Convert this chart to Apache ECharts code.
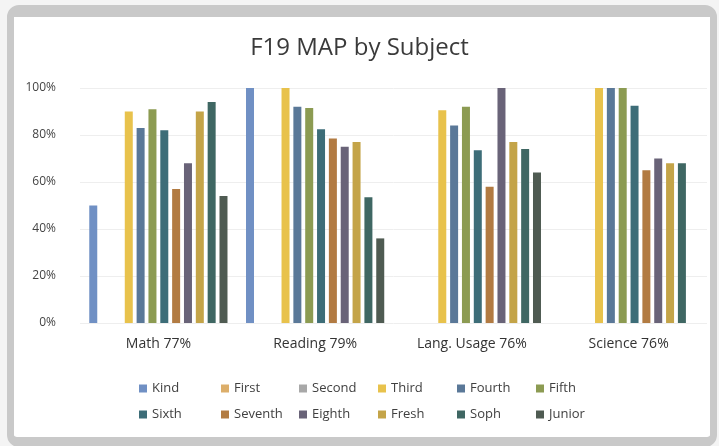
<!DOCTYPE html>
<html>
<head>
<meta charset="utf-8">
<script src="https://cdn.jsdelivr.net/npm/echarts@6/dist/echarts.min.js"></script>
<style>
	html, body { margin: 0; padding: 0; background: #f4f4f4; }
	#frame {
		position: absolute; left: 7px; top: 5px; width: 696px; height: 420px;
		border: 7px solid #c9c9c9; border-top-width: 12px; border-bottom-width: 10px;
		border-radius: 12px; background: #fff;
	}
	#chart { position: absolute; left: 0; top: 0; width: 719px; height: 446px; }
</style>
</head>
<body>
<div id="frame"></div>
<div id="chart"></div>
<script>
// subjects on x axis
var subjects = ['Math 77%', 'Reading 79%', 'Lang. Usage 76%', 'Science 76%'];
// grade levels (series)
var grades = ['Kind', 'First', 'Second', 'Third', 'Fourth', 'Fifth', 'Sixth', 'Seventh', 'Eighth', 'Fresh', 'Soph', 'Junior'];
var gradeColors = ['#7090c4', '#dcae6a', '#a8a8a8', '#e8c24c', '#5a7898', '#8c9b52', '#3d6d78', '#b27b42', '#696378', '#c4a448', '#3f6763', '#4f5b52'];
// percent per subject, one array per grade
var kind    = [50, 100, null, null];
var first   = [null, null, null, null];
var second  = [null, null, null, null];
var third   = [90, 100, 90.5, 100];
var fourth  = [83, 92, 84, 100];
var fifth   = [91, 91.5, 92, 100];
var sixth   = [82, 82.5, 73.5, 92.5];
var seventh = [57, 78.5, 58, 65];
var eighth  = [68, 75, 100, 70];
var fresh   = [90, 77, 77, 68];
var soph    = [94, 53.5, 74, 68];
var junior  = [54, 36, 64, null];
var yTicks = [0, 20, 40, 60, 80, 100];

var values = [kind, first, second, third, fourth, fifth, sixth, seventh, eighth, fresh, soph, junior];

var chart = echarts.init(document.getElementById('chart'));

var series = grades.map(function(g, i) {
	return {
		name: g,
		type: 'bar',
		data: values[i],
		barWidth: 8,
		barGap: '48%',
		itemStyle: { color: gradeColors[i] }
	};
});

// legend laid out as a 6 x 2 grid, one legend per item
var legendCols = [134, 216, 294, 373, 452, 531];
var legendRows = [377, 403];
var legends = grades.map(function(g, i) {
	return {
		data: [g],
		left: legendCols[i % 6],
		top: legendRows[Math.floor(i / 6)],
		itemWidth: 8,
		itemHeight: 8,
		icon: 'rect',
		textStyle: { fontFamily: 'Open Sans', fontSize: 13, color: '#404040' }
	};
});

chart.setOption({
	animation: false,
	title: {
		text: 'F19 MAP by Subject',
		left: 'center',
		top: 31,
		textStyle: { fontFamily: 'Open Sans', fontSize: 24, fontWeight: 'normal', color: '#3a3a3a' }
	},
	legend: legends,
	grid: { left: 80, right: 12, top: 88, bottom: 123 },
	xAxis: {
		type: 'category',
		data: subjects,
		axisLine: { show: false },
		axisTick: { show: false },
		axisLabel: { margin: 14, fontFamily: 'Open Sans', fontSize: 14, color: '#333' }
	},
	yAxis: {
		type: 'value',
		min: yTicks[0],
		max: yTicks[yTicks.length - 1],
		interval: 20,
		axisLine: { show: false },
		axisTick: { show: false },
		axisLabel: { margin: 24, formatter: '{value}%', fontFamily: 'Open Sans', fontSize: 12, color: '#444' },
		splitLine: { lineStyle: { color: '#eeeeee' } }
	},
	series: series
});
</script>
</body>
</html>
